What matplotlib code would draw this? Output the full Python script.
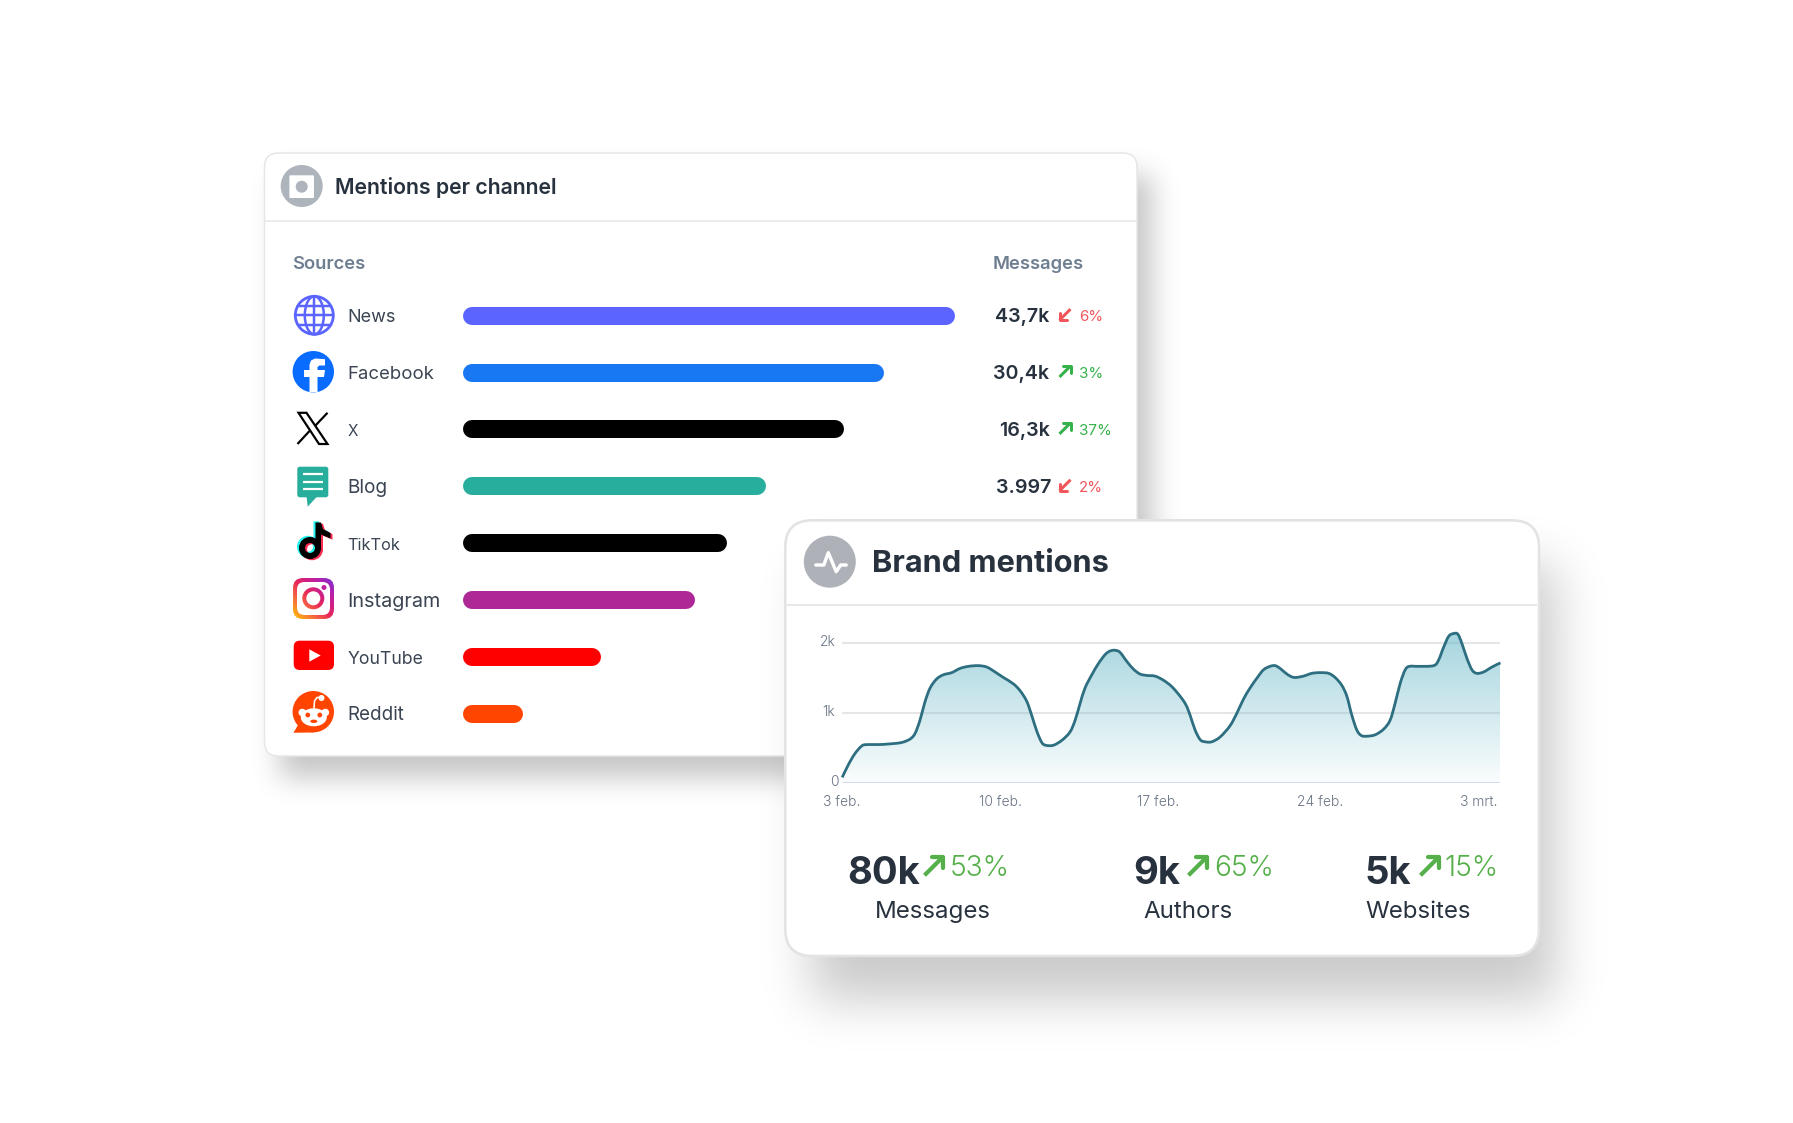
"""Mentions per channel / Brand mentions dashboard cards."""

import matplotlib
matplotlib.use("Agg")

import matplotlib.pyplot as plt
import numpy as np
from matplotlib.colors import LinearSegmentedColormap
from matplotlib.font_manager import FontProperties
from matplotlib.patches import Circle, Ellipse, FancyBboxPatch, PathPatch, Polygon
from matplotlib.path import Path
from matplotlib.textpath import TextPath
from matplotlib.transforms import ScaledTranslation

W, H = 1793, 1123
FONT = "Inter"
DARK = "#28323f"
GREY = "#6f7f92"
GREEN = "#35b24a"
RED = "#f0565a"
STAT_GREEN = "#56b04a"

channels = ["News", "Facebook", "X", "Blog", "TikTok", "Instagram", "YouTube", "Reddit"]
bar_share = [100.0, 85.6, 77.5, 61.6, 53.6, 47.2, 28.1, 12.3]
bar_colors = ["#5c64ff", "#1877f2", "#000000", "#27ae9c", "#000000", "#ae2796", "#ff0000", "#ff4500"]
message_labels = ["43,7k", "30,4k", "16,3k", "3.997"]
message_pct = ["6%", "3%", "37%", "2%"]
message_up = [False, True, True, False]

tick_days = [0, 6.72, 13.43, 20.33, 27.1]
tick_labels = ["3 feb.", "10 feb.", "17 feb.", "24 feb.", "3 mrt."]
mention_days = [
    0.0, 0.26, 0.54, 0.83, 1.04, 1.54, 2.03, 2.53, 2.89, 3.10, 3.31, 3.52, 3.74, 4.02, 4.31,
    4.66, 5.01, 5.37, 5.79, 6.15, 6.50, 6.86, 7.28, 7.57, 7.85, 8.06, 8.28, 8.49, 8.66, 8.98,
    9.34, 9.69, 9.91, 10.12, 10.33, 10.62, 10.90, 11.19, 11.40, 11.61, 11.82, 12.11, 12.39,
    12.67, 12.96, 13.31, 13.67, 14.02, 14.38, 14.62, 14.80, 15.01, 15.23, 15.44, 15.72, 16.08,
    16.50, 16.79, 17.07, 17.35, 17.64, 17.92, 18.20, 18.42, 18.63, 18.84, 19.06, 19.27, 19.62,
    19.98, 20.33, 20.69, 20.97, 21.25, 21.47, 21.68, 21.89, 22.08, 22.32, 22.67, 23.03, 23.31,
    23.52, 23.74, 23.95, 24.13, 24.52, 25.16, 25.37, 25.58, 25.80, 26.01, 26.19, 26.36, 26.57,
    26.79, 27.00, 27.29, 27.64, 28.00,
]
mention_k = [
    0.08, 0.26, 0.42, 0.53, 0.55, 0.55, 0.56, 0.58, 0.63, 0.71, 0.90, 1.16, 1.36, 1.49, 1.55,
    1.58, 1.64, 1.67, 1.68, 1.66, 1.59, 1.51, 1.42, 1.32, 1.17, 0.97, 0.74, 0.58, 0.54, 0.54,
    0.61, 0.73, 0.90, 1.14, 1.36, 1.55, 1.71, 1.84, 1.89, 1.90, 1.87, 1.74, 1.63,
    1.56, 1.54, 1.53, 1.47, 1.38, 1.24, 1.12, 0.97, 0.76, 0.62, 0.59, 0.59, 0.66,
    0.82, 1.00, 1.20, 1.36, 1.50, 1.62, 1.67, 1.68, 1.64, 1.58, 1.53, 1.51, 1.53,
    1.57, 1.58, 1.57, 1.51, 1.40, 1.24, 0.97, 0.76, 0.68, 0.67, 0.69, 0.77, 0.90,
    1.14, 1.43, 1.62, 1.67, 1.67, 1.68, 1.76, 1.94, 2.10, 2.14, 2.13, 2.00, 1.79,
    1.62, 1.57, 1.59, 1.66, 1.72,
]

stat_values = ["80k", "9k", "5k"]
stat_pct = ["53%", "65%", "15%"]
stat_names = ["Messages", "Authors", "Websites"]


def px_axes(fig, x0, y0, x1, y1, z):
    ax = fig.add_axes([x0 / W, 1 - y1 / H, (x1 - x0) / W, (y1 - y0) / H], zorder=z)
    ax.patch.set_alpha(0)
    return ax


def fit_size(s, width, weight=400):
    prop = FontProperties(family=FONT, weight=weight)
    ext = TextPath((0, 0), s, size=100, prop=prop).get_extents()
    return 100 * width / ext.width * 0.72


def put(ax, x, y, s, size, color=DARK, weight=400, ha="left"):
    ax.text(x, y, s, fontsize=size, color=color, family=FONT, weight=weight, ha=ha, va="baseline")


def rrect(ax, x0, y0, x1, y1, r, fc="none", ec="none", lw=0, z=2):
    p = FancyBboxPatch((x0, y0), x1 - x0, y1 - y0, boxstyle=f"round,pad=0,rounding_size={r}",
                       fc=fc, ec=ec, lw=lw * 0.72, zorder=z)
    ax.add_patch(p)
    return p


def shadow(ax, x0, y0, x1, y1, sigma, alpha, z=1):
    kx = np.arange(-int(3 * sigma), int(3 * sigma) + 1)
    kernel = np.exp(-kx**2 / (2.0 * sigma**2))
    kernel /= kernel.sum()
    xs = np.arange(W) + 0.5
    ys = np.arange(H) + 0.5
    gx = np.convolve(((xs > x0) & (xs < x1)).astype(float), kernel, mode="same")
    gy = np.convolve(((ys > y0) & (ys < y1)).astype(float), kernel, mode="same")
    rgba = np.zeros((H, W, 4))
    rgba[..., 3] = np.outer(gy, gx) * alpha
    ax.imshow(rgba, extent=(0, W, H, 0), aspect="auto", zorder=z, interpolation="nearest")
    ax.set_xlim(0, W)
    ax.set_ylim(H, 0)


def line(ax, xs, ys, color, lw, z=5, cap="round"):
    ax.plot(xs, ys, color=color, lw=lw * 0.72, zorder=z, solid_capstyle=cap, solid_joinstyle="round")


def arrow(ax, x, y, s, up, color, lw=2.6, head=None):
    head = s * 1.3 if head is None else head
    if up:
        tx, ty, hx, hy, d = x - s, y + s, x + s, y - s, 1
    else:
        tx, ty, hx, hy, d = x + s, y - s, x - s, y + s, -1
    line(ax, [tx, hx], [ty, hy], color, lw, cap="butt")
    line(ax, [hx - d * head, hx, hx], [hy, hy, hy + d * head], color, lw)


def gradient_image(ax, extent, clip, z=5):
    cmap = LinearSegmentedColormap.from_list(
        "insta", ["#ffc107", "#f9733c", "#e8265a", "#c01fa0", "#7a2fd6"])
    u, v = np.meshgrid(np.linspace(0, 1, 60), np.linspace(0, 1, 60))
    im = ax.imshow((u + (1 - v)) / 2, cmap=cmap, extent=extent, zorder=z, aspect="auto", origin="upper")
    im.set_clip_path(clip)
    ax.set_xlim(0, W)
    ax.set_ylim(H, 0)


def draw_icons(ax):
    # globe
    cx, cy, r = 314.3, 315.3, 19
    ax.add_patch(Circle((cx, cy), r, fc="white", ec="#5c64ff", lw=2.8 * 0.72, zorder=5))
    ax.add_patch(Ellipse((cx, cy), 19, 2 * r, fc="none", ec="#5c64ff", lw=2.5 * 0.72, zorder=5))
    line(ax, [cx, cx], [cy - r, cy + r], "#5c64ff", 2.5)
    for dy in (-9.5, 0, 9.5):
        half = np.sqrt(r**2 - dy**2)
        line(ax, [cx - half, cx + half], [cy + dy, cy + dy], "#5c64ff", 2.5)

    # facebook
    cx, cy, r = 313.3, 371.7, 20.7
    ax.add_patch(Circle((cx, cy), r, fc="#0a6cff", zorder=5))
    f_shape = [(309.5, 392), (309.5, 377), (304, 377), (304, 370), (309.5, 370), (309.5, 364.5),
               (311, 360.5), (315, 358.5), (325, 359.2), (325, 365.5), (319.5, 365.5),
               (317.5, 367), (317.5, 370), (325, 370), (324, 377), (317.5, 377), (317.5, 392)]
    ax.add_patch(Polygon(f_shape, fc="white", zorder=6))

    # x
    band = [(298.5, 412.8), (306.5, 412.8), (327.5, 444), (319, 444)]
    ax.add_patch(Polygon(band, fc="white", ec="black", lw=2.2 * 0.72, zorder=5))
    line(ax, [327.5, 315], [412.8, 426], "black", 2.2, cap="butt")
    line(ax, [309.5, 297.5], [431, 444], "black", 2.2, cap="butt")

    # blog
    rrect(ax, 297.3, 466.7, 328.3, 497.3, 2.5, fc="#27ae9c", z=5)
    ax.add_patch(Polygon([(306.5, 496), (307.7, 506.7), (317.5, 496)], fc="#27ae9c", zorder=5))
    for y in (474.3, 481.7, 489):
        line(ax, [302.7, 322.7], [y, y], "white", 2.2, z=6, cap="butt")

    # tiktok, cyan and red copies sit behind the black note
    for dx, dy, col, z in ((-2, -1.2, "#25f4ee", 5), (2, 1.2, "#fe2c55", 5.1), (0, 0, "black", 5.2)):
        ax.add_patch(Circle((310 + dx, 548 + dy), 8, fc="none", ec=col, lw=6 * 0.72, zorder=z))
        ax.add_patch(Polygon([(315.5 + dx, 522.5 + dy), (321 + dx, 522.5 + dy), (323 + dx, 529 + dy),
                              (330.5 + dx, 533 + dy), (330.5 + dx, 538.5 + dy), (321 + dx, 534.5 + dy),
                              (321 + dx, 549 + dy), (315.5 + dx, 549 + dy)], fc=col, zorder=z))

    # instagram
    extent = (293, 334, 619, 578)
    outer = rrect(ax, 293, 578, 334, 619, 10, fc="none", z=4)
    gradient_image(ax, extent, outer, z=5)
    rrect(ax, 297, 582, 330, 615, 7.5, fc="white", z=5.1)
    ring = Circle((313.3, 598.3), 11, fc="none", zorder=4)
    ax.add_patch(ring)
    gradient_image(ax, extent, ring, z=5.2)
    ax.add_patch(Circle((313.3, 598.3), 7, fc="white", zorder=5.3))
    ax.add_patch(Circle((324, 587.5), 2.5, fc="#c01fa0", zorder=5.3))

    # youtube
    rrect(ax, 293.7, 640.7, 334, 670, 6, fc="#ff0000", z=5)
    ax.add_patch(Polygon([(309.3, 649.3), (309.3, 661.7), (320.7, 655.5)], fc="white", zorder=6))

    # reddit
    ax.add_patch(Circle((313.3, 711.7), 20.7, fc="#ff4500", zorder=5))
    ax.add_patch(Polygon([(293.5, 732.8), (298, 725), (314, 732.4)], fc="#ff4500", zorder=5))
    ax.add_patch(Ellipse((313.8, 717.3), 26, 18, fc="white", zorder=6))
    for x in (302.3, 325.3):
        ax.add_patch(Circle((x, 712.5), 3.8, fc="white", zorder=6))
    for x in (307.8, 319.8):
        ax.add_patch(Circle((x, 715), 2.4, fc="#ff4500", zorder=7))
    ax.add_patch(Ellipse((313.8, 721.3), 7, 3.4, fc="#ff4500", zorder=7))
    line(ax, [314, 314.5, 317, 320], [708, 701, 697.5, 697.5], "white", 1.6, z=6)
    ax.add_patch(Circle((321.5, 698), 3, fc="white", zorder=6))


def smooth_path(xs, ys):
    pts = np.column_stack([xs, ys])
    verts = [pts[0]]
    codes = [Path.MOVETO]
    for i in range(len(pts) - 1):
        p0 = pts[max(i - 1, 0)]
        p1, p2 = pts[i], pts[i + 1]
        p3 = pts[min(i + 2, len(pts) - 1)]
        verts += [p1 + (p2 - p0) / 6, p2 - (p3 - p1) / 6, p2]
        codes += [Path.CURVE4] * 3
    return verts, codes


fig = plt.figure(figsize=(W / 100, H / 100), dpi=100, facecolor="white")

# back card
back = fig.add_axes([0, 0, 1, 1], zorder=0)
back.set_xlim(0, W)
back.set_ylim(H, 0)
back.axis("off")
shadow(back, 280, 175, 1152, 778, 14, 0.23, z=1)
rrect(back, 264.5, 153, 1137, 756, 14, fc="white", ec="#e4e6e8", lw=1.5, z=2)
line(back, [265, 1137], [221, 221], "#e3e5e8", 1.5, z=3, cap="butt")
back.add_patch(Circle((301.7, 186), 21, fc="#aeb4bc", zorder=3))
rrect(back, 289.4, 175.3, 314, 198, 1, fc="white", z=4)
back.add_patch(Circle((301.7, 186.7), 6, fc="#aeb4bc", zorder=5))
put(back, 335, 194, "Mentions per channel", fit_size("Mentions per channel", 220, 600), weight=600)
head_size = fit_size("Messages", 89, 600)
put(back, 292.5, 269.3, "Sources", head_size, GREY, 600)
put(back, 992.5, 269.3, "Messages", head_size, GREY, 600)
draw_icons(back)

row_y = [315.2 + 56.9 * i for i in range(len(channels))]
label_widths = [46, 84.6, 9.6, 37, 51.7, 90, 74.6, 54.7]
for name, y, wd in zip(channels, row_y, label_widths):
    put(back, 347.6, y + 7, name, fit_size(name, wd), "#3a4452")

value_size = fit_size("30,4k", 55, 600)
pct_size = fit_size("37%", 30)
value_right = [1049.5, 1049.5, 1049.5, 1051.5]
for lab, pct, up, y, right in zip(message_labels, message_pct, message_up, row_y, value_right):
    col = GREEN if up else RED
    put(back, right, y + 7.2, lab, value_size, weight=600, ha="right")
    arrow(back, 1065, y - 0.6, 5.5, up, col, lw=3)
    put(back, 1079, y + 5.8, pct, pct_size, col)

# bars get their own axis so the value scale does the positioning
bar_ax = px_axes(fig, 462.6, 315.7 - 28.45, 955, row_y[-1] + 28.95, 1)
bar_ax.set_xlim(0, 100)
bar_ax.set_ylim(len(channels) - 0.5, -0.5)
bar_ax.axis("off")
cap = 9 / 4.924
for i, (v, col) in enumerate(zip(bar_share, bar_colors)):
    bar_ax.plot([cap, v - cap], [i, i], color=col, lw=18 * 0.72, solid_capstyle="round", clip_on=False)

# front card
front = fig.add_axes([0, 0, 1, 1], zorder=2)
front.patch.set_alpha(0)
front.axis("off")
shadow(front, 811, 565, 1556, 1000, 25, 0.21, z=1)
rrect(front, 785.3, 520.3, 1539, 956, 27, fc="white", ec="#e2e3e5", lw=2.6, z=2)
line(front, [787, 1537], [605, 605], "#e8e8ea", 2, z=3, cap="butt")
front.add_patch(Circle((829.8, 561.7), 26, fc="#aeb1b7", zorder=3))
line(front, [815.8, 823.8, 828.3, 836.2, 840.7, 846.2], [565, 565, 552.7, 571.7, 565, 565], "white", 3.4, z=4)
put(front, 871.5, 572, "Brand mentions", fit_size("Brand mentions", 234, 700), weight=700)

big_size = fit_size("80k", 71, 700)
up_size = fit_size("53%", 55, 300)
name_size = fit_size("Messages", 113)
big_x = [847.6, 1133, 1364.5]
arrow_x = [933.5, 1197.5, 1429.5]
pct_x = [950, 1214, 1444]
name_x = [932.7, 1188, 1418]
for i in range(3):
    put(front, big_x[i], 884, stat_values[i], big_size, weight=700)
    arrow(front, arrow_x[i], 866.3, 9, True, STAT_GREEN, lw=4.2, head=11)
    put(front, pct_x[i], 876, stat_pct[i], up_size, STAT_GREEN, 300)
    put(front, name_x[i], 918, stat_names[i], name_size, ha="center")

# area chart
top_k = 2.25
chart = px_axes(fig, 842.2, 783 - top_k * 69.85, 1500.4, 783, 3)
chart.set_xlim(0, 28)
chart.set_ylim(0, top_k)
for s in chart.spines.values():
    s.set_visible(False)
chart.set_xticks(tick_days, tick_labels)
chart.set_yticks([0, 1, 2], ["0", "1k", "2k"])
chart.tick_params(length=0, labelsize=10, labelcolor="#687384", pad=5)
chart.tick_params(axis="x", pad=9)
for t in chart.get_xticklabels() + chart.get_yticklabels():
    t.set_family(FONT)
    t.set_weight(300)
# y labels sit a little above their gridlines, the 0 closer to the plot
for t, dx in zip(chart.get_yticklabels(), (3, 0, 0)):
    t.set_transform(t.get_transform() + ScaledTranslation(dx / 100, 2.5 / 100, fig.dpi_scale_trans))
chart.hlines([1, 2], 0, 28, color="#e6e6e8", lw=1.5, zorder=1)
chart.hlines(0, 0, 28, color="#d5daec", lw=2.2, zorder=4)

verts, codes = smooth_path(mention_days, mention_k)
area = PathPatch(Path(verts + [(28, 0), (0, 0), (0, mention_k[0])],
                      codes + [Path.LINETO, Path.LINETO, Path.LINETO]), fc="none", ec="none")
chart.add_patch(area)
fade = np.zeros((100, 2, 4))
fade[..., :3] = (0.36, 0.70, 0.77)
fade[..., 3] = np.linspace(0.55, 0.03, 100)[:, None]
im = chart.imshow(fade, extent=(0, 28, 0, max(mention_k)), aspect="auto", zorder=2)
im.set_clip_path(area)
chart.set_xlim(0, 28)
chart.set_ylim(0, top_k)
chart.add_patch(PathPatch(Path(verts, codes), fc="none", ec="#2d6e80", lw=2.0, zorder=3, clip_on=False))

fig.savefig("out.png", dpi=100)
